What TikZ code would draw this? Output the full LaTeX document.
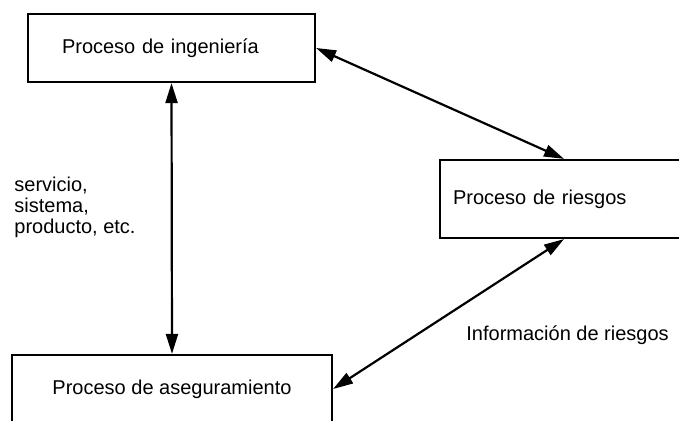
\documentclass[tikz,border=0pt]{standalone}
\usepackage{fontspec}
\setmainfont{Liberation Sans}
\usetikzlibrary{arrows.meta}

\begin{document}
\begin{tikzpicture}[x=.5pt, y=-.5pt, >={Triangle[length=10pt, width=6pt]},
    proceso/.style={draw, line width=1.1pt, minimum height=34pt},
    flecha/.style={<->, line width=1.1pt}]
    \clip (0, 0) rectangle (679, 421);
    \node [proceso, text width=109.5pt, inner xsep=17pt, align=left] (ing)
        at (171.5, 48) {Proceso de ingeniería};
    \node [proceso, minimum height=39pt, text width=117pt, inner xsep=6.5pt, align=left] (ries)
        at (570, 199) {Proceso de riesgos};
    \node [proceso, minimum width=160pt] (aseg) at (172, 389) {Proceso de aseguramiento};
    \draw [flecha] (ing.south) -- (aseg.north);
    \draw [flecha] (ing.east) -- ([xshift=-3pt]ries.north);
    \draw [flecha] ([xshift=-3pt]ries.south) -- (aseg.east);
    \node [anchor=north west, align=left, inner sep=0pt, font=\fontsize{10}{10.5}\selectfont] (obj)
        at (14, 177) {servicio,\\sistema,\\producto, etc.};
    \node [anchor=west, inner sep=0pt] (info) at (466, 335) {Información de riesgos};
\end{tikzpicture}
\end{document}
